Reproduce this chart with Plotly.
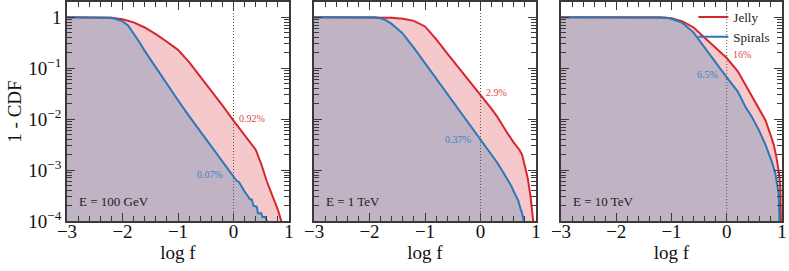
import numpy as np
import plotly.graph_objects as go

# ---------------- data: log10 f  vs  log10(1 - CDF) ----------------
panel_labels = ["E = 100 GeV", "E = 1 TeV", "E = 10 TeV"]

jelly_100gev_x = [-3, -2.4, -2.2, -2.0, -1.8, -1.6, -1.4, -1.2, -1.0, -0.8, -0.6, -0.4, -0.2, 0.0,
                  0.2, 0.4, 0.5, 0.6, 0.7, 0.8, 0.86, 0.87]
jelly_100gev_log = [0, 0, -0.01, -0.04, -0.1, -0.2, -0.33, -0.48, -0.64, -0.88, -1.16, -1.44, -1.73, -2.03,
                    -2.32, -2.6, -2.88, -3.22, -3.5, -3.78, -4.0, -5]
spirals_100gev_x = [-3, -2.3, -2.2, -2.1, -2.0, -1.9, -1.8, -1.7, -1.6, -1.4, -1.2, -1.0, -0.8, -0.6, -0.4,
                    -0.2, -0.1, 0.0, 0.05, 0.1, 0.15, 0.2, 0.25, 0.3, 0.33, 0.36, 0.42, 0.44, 0.5, 0.52, 0.57,
                    0.6, 0.61]
spirals_100gev_log = [0, 0, -0.01, -0.04, -0.08, -0.16, -0.31, -0.48, -0.66, -0.99, -1.31, -1.63, -1.94, -2.24,
                      -2.54, -2.84, -2.98, -3.13, -3.2, -3.24, -3.34, -3.42, -3.5, -3.58, -3.58, -3.7, -3.72,
                      -3.85, -3.85, -3.92, -3.92, -4.0, -5]

jelly_1tev_x = [-3, -1.8, -1.6, -1.4, -1.2, -1.0, -0.8, -0.6, -0.4, -0.2, 0.0, 0.2, 0.3, 0.4, 0.5, 0.6, 0.7,
                0.75, 0.8, 0.85, 0.9, 0.93, 0.95, 0.96]
jelly_1tev_log = [0, 0, -0.01, -0.03, -0.07, -0.18, -0.43, -0.71, -0.98, -1.25, -1.52, -1.8, -1.95, -2.13,
                  -2.3, -2.46, -2.6, -2.7, -2.9, -3.15, -3.5, -3.8, -4.0, -5]
spirals_1tev_x = [-3, -1.9, -1.8, -1.7, -1.6, -1.5, -1.4, -1.2, -1.0, -0.8, -0.6, -0.4, -0.2, 0.0, 0.2, 0.3,
                  0.4, 0.5, 0.55, 0.6, 0.64, 0.68, 0.72, 0.75, 0.78, 0.79]
spirals_1tev_log = [0, 0, -0.02, -0.06, -0.13, -0.22, -0.32, -0.6, -0.9, -1.2, -1.5, -1.8, -2.1, -2.41, -2.7,
                    -2.85, -3.03, -3.2, -3.3, -3.42, -3.5, -3.6, -3.75, -3.85, -4.0, -5]

jelly_10tev_x = [-3, -1.2, -1.0, -0.8, -0.6, -0.4, -0.2, 0.0, 0.2, 0.4, 0.5, 0.6, 0.7, 0.8, 0.85, 0.9, 0.95,
                 0.97, 0.98, 0.99, 0.995]
jelly_10tev_log = [0, 0, -0.02, -0.08, -0.2, -0.4, -0.6, -0.8, -1.06, -1.45, -1.64, -1.82, -2.02, -2.33,
                   -2.5, -2.75, -3.1, -3.35, -3.7, -4.0, -5]
spirals_10tev_x = [-3, -1.3, -1.1, -1.0, -0.8, -0.6, -0.4, -0.2, 0.0, 0.2, 0.34, 0.45, 0.58, 0.7, 0.76, 0.82,
                   0.88, 0.92, 0.94, 0.95, 0.955, 0.96]
spirals_10tev_log = [0, 0, -0.01, -0.03, -0.11, -0.3, -0.6, -0.9, -1.18, -1.46, -1.76, -1.95, -2.21, -2.5,
                     -2.67, -2.85, -3.07, -3.3, -3.46, -3.8, -4.0, -5]

jelly_pct = ["0.92%", "2.9%", "16%"]
jelly_pct_pos = [(0.07, -1.98), (0.07, -1.47), (0.08, -0.74)]
spirals_pct = ["0.07%", "0.37%", "6.5%"]
spirals_pct_pos = [(-0.16, -3.08), (-0.14, -2.39), (-0.13, -1.13)]

ytick_vals = [1e-4, 1e-3, 1e-2, 1e-1, 1]
ytick_text = ["10<sup>−4</sup>", "10<sup>−3</sup>", "10<sup>−2</sup>", "10<sup>−1</sup>", "1"]
xtick_vals = [-3, -2, -1, 0, 1]
xtick_text = ["−3", "−2", "−1", "0", "1"]

panels = [
    (jelly_100gev_x, jelly_100gev_log, spirals_100gev_x, spirals_100gev_log),
    (jelly_1tev_x, jelly_1tev_log, spirals_1tev_x, spirals_1tev_log),
    (jelly_10tev_x, jelly_10tev_log, spirals_10tev_x, spirals_10tev_log),
]

# ---------------- styling ----------------
RED = "#d7262b"
BLUE = "#2b78b9"
PINK = "#f5c8cb"
PURPLE = "#bfb3c4"
FRAME = "#3a3a3a"
FONT = "Liberation Serif"

domains = [[0.0, 0.3105], [0.3455, 0.6559], [0.6909, 1.0]]

fig = go.Figure()

for i, (jx, jl, sx, sl) in enumerate(panels):
    xa = "x" if i == 0 else f"x{i+1}"
    ya = "y" if i == 0 else f"y{i+1}"
    jy = 10 ** np.array(jl, dtype=float)
    sy = 10 ** np.array(sl, dtype=float)
    fig.add_trace(go.Scatter(x=[-3, 1], y=[1e-6, 1e-6], mode="lines", line=dict(width=0),
                             showlegend=False, hoverinfo="skip", xaxis=xa, yaxis=ya))
    fig.add_trace(go.Scatter(x=sx, y=sy, mode="lines", line=dict(width=0), fill="tonexty",
                             fillcolor=PURPLE, showlegend=False, hoverinfo="skip", xaxis=xa, yaxis=ya))
    fig.add_trace(go.Scatter(x=jx, y=jy, mode="lines", line=dict(width=0), fill="tonexty",
                             fillcolor=PINK, showlegend=False, hoverinfo="skip", xaxis=xa, yaxis=ya))
    fig.add_trace(go.Scatter(x=jx, y=jy, mode="lines", line=dict(color=RED, width=2),
                             name="Jelly", showlegend=(i == 2), xaxis=xa, yaxis=ya))
    fig.add_trace(go.Scatter(x=sx, y=sy, mode="lines", line=dict(color=BLUE, width=2),
                             name="Spirals", showlegend=(i == 2), xaxis=xa, yaxis=ya))

    fig.add_shape(type="line", xref=xa, yref=f"{ya} domain", x0=0, x1=0, y0=0, y1=1,
                  line=dict(color="#555555", width=1, dash="1px,2px"), layer="above")

    fig.add_annotation(xref=xa, yref=ya, x=-2.82, y=-3.62, text=panel_labels[i], showarrow=False,
                       xanchor="left", yanchor="middle", font=dict(family=FONT, size=13, color="#222222"))
    px, py = jelly_pct_pos[i]
    fig.add_annotation(xref=xa, yref=ya, x=px, y=py, text=jelly_pct[i], showarrow=False,
                       xanchor="left", yanchor="middle", font=dict(family=FONT, size=10, color="#e0474c"))
    px, py = spirals_pct_pos[i]
    fig.add_annotation(xref=xa, yref=ya, x=px, y=py, text=spirals_pct[i], showarrow=False,
                       xanchor="right", yanchor="middle", font=dict(family=FONT, size=10, color="#3b84c4"))

    axis_common = dict(showline=True, linecolor=FRAME, linewidth=1.5, mirror="allticks",
                       ticks="inside", tickcolor=FRAME, tickwidth=1, showgrid=False, zeroline=False,
                       tickfont=dict(family=FONT, size=19, color="#111111"))
    xkey = "xaxis" if i == 0 else f"xaxis{i+1}"
    ykey = "yaxis" if i == 0 else f"yaxis{i+1}"
    fig.layout[xkey] = dict(axis_common, domain=domains[i], anchor=ya, range=[-3, 1],
                            tickvals=xtick_vals, ticktext=xtick_text, ticklen=8,
                            ticklabelstandoff=-8,
                            minor=dict(dtick=0.2, ticks="inside", ticklen=5, tickcolor=FRAME, showgrid=False),
                            title=dict(text="log f", font=dict(family=FONT, size=19, color="#111111"),
                                       standoff=0))
    ydict = dict(axis_common, domain=[0, 1], anchor=xa, type="log", range=[-4, 0.30],
                 tickvals=ytick_vals, ticktext=ytick_text, ticklen=8,
                 showticklabels=(i == 0),
                 minor=dict(dtick="D1", ticks="inside", ticklen=5, tickcolor=FRAME, showgrid=False))
    if i == 0:
        ydict["title"] = dict(text="1 - CDF", font=dict(family=FONT, size=19, color="#111111"), standoff=2)
    fig.layout[ykey] = ydict

fig.update_layout(
    width=789, height=271,
    margin=dict(l=67, r=7, t=2, b=50, autoexpand=False),
    paper_bgcolor="white", plot_bgcolor="white",
    showlegend=True,
    legend=dict(x=0.876, y=1.0, xanchor="left", yanchor="top", bgcolor="rgba(0,0,0,0)",
                font=dict(family=FONT, size=13, color="#222222"), tracegroupgap=0,
                traceorder="normal", itemwidth=30),
)

fig.write_html("out.html", config={"displayModeBar": False},
               post_script="document.body.style.margin='0px';document.body.style.padding='0px';")
